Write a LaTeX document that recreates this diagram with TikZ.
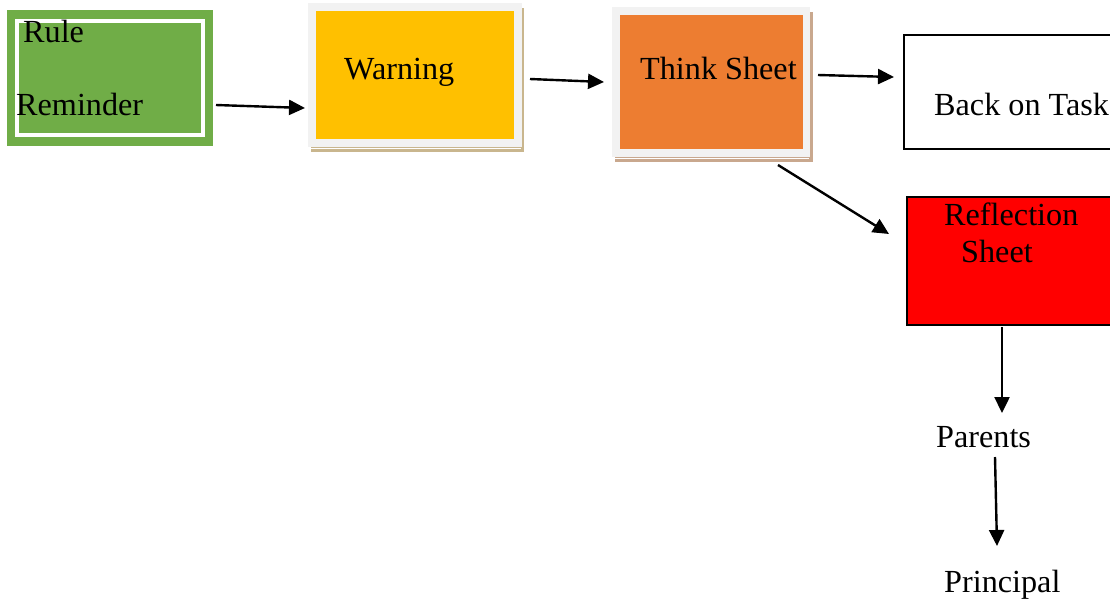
\documentclass[tikz,border=0pt]{standalone}
\usepackage{fontspec}
\setmainfont{Liberation Serif}
\usetikzlibrary{arrows.meta}

\definecolor{rulegreen}{HTML}{70AD47}
\definecolor{warnyellow}{HTML}{FFC000}
\definecolor{thinkorange}{HTML}{ED7D31}
\definecolor{framegray}{HTML}{F2F2F2}
\definecolor{shadowtan}{HTML}{C9B68E}
\definecolor{shadowbrown}{HTML}{C9A88E}

\begin{document}
\begin{tikzpicture}[x=1pt,y=-1pt,
    box/.style={draw=none,inner sep=0pt,outer sep=0pt,anchor=north west},
    lbl/.style={inner sep=0pt,anchor=base west,font=\fontsize{32.2}{38}\selectfont},
    link/.style={-{Triangle[length=16pt,width=15pt]},line width=2.4pt}]
    \useasboundingbox (0,0) rectangle (1110,603);

    % Rule reminder: green box with a white line inside
    \node[box,fill=rulegreen,minimum width=206pt,minimum height=136pt] (rule) at (7,10) {};
    \draw[white,line width=4pt] (17,21) rectangle (203,135);

    % Warning and think sheet: shadow, gray frame, coloured face
    \node[box,fill=shadowtan,minimum width=213pt,minimum height=144pt] (warnshadow) at (311,8) {};
    \node[box,fill=framegray,minimum width=214pt,minimum height=144pt] (warnframe) at (308,3) {};
    \draw[white,line width=0.8pt] (310,148.5) -- (521,148.5);
    \node[box,fill=warnyellow,minimum width=198pt,minimum height=128pt] (warn) at (316,11) {};

    \node[box,fill=shadowbrown,minimum width=198pt,minimum height=150pt] (thinkshadow) at (615,12) {};
    \node[box,fill=framegray,minimum width=198pt,minimum height=150pt] (thinkframe) at (612,7) {};
    \draw[white,line width=0.8pt] (614,158.5) -- (809,158.5);
    \node[box,fill=thinkorange,minimum width=183pt,minimum height=134pt] (think) at (620,15) {};

    % Back on task and reflection sheet run past the right edge
    \node[box,draw=black,line width=1.5pt,fill=white,minimum width=216pt,minimum height=114pt] (back) at (904,35) {};
    \node[box,draw=black,line width=1.5pt,fill=red,minimum width=213pt,minimum height=128pt] (reflect) at (907,197) {};

    % Labels
    \foreach \name/\x/\y/\txt in {
    rulelbl/23/42/Rule,
    remindlbl/16/115/Reminder,
    warnlbl/344/79/Warning,
    thinklbl/640/79/Think Sheet,
    backlbl/934/115/Back on Task,
    reflectlbl/944/225/Reflection,
    sheetlbl/961/262/Sheet,
    parents/936/447/Parents,
    principal/944/592/Principal} {
    \node[lbl] (\name) at (\x,\y) {\txt};
    }

    % Arrow ends
    \coordinate (r1) at (216,105);
    \coordinate (w1) at (305,108);
    \coordinate (w2) at (530,79);
    \coordinate (t1) at (604,82);
    \coordinate (t2) at (818,75);
    \coordinate (b1) at (894,77);
    \coordinate (t3) at (778,165);
    \coordinate (f1) at (889,234);
    \coordinate (f2) at (1002,327);
    \coordinate (p1) at (1002,413);
    \coordinate (p2) at (995,457);
    \coordinate (q1) at (997,546);

    \foreach \a/\b in {r1/w1, w2/t1, t2/b1, t3/f1, f2/p1, p2/q1} {
        \draw[link] (\a) -- (\b);
    }

\end{tikzpicture}
\end{document}
